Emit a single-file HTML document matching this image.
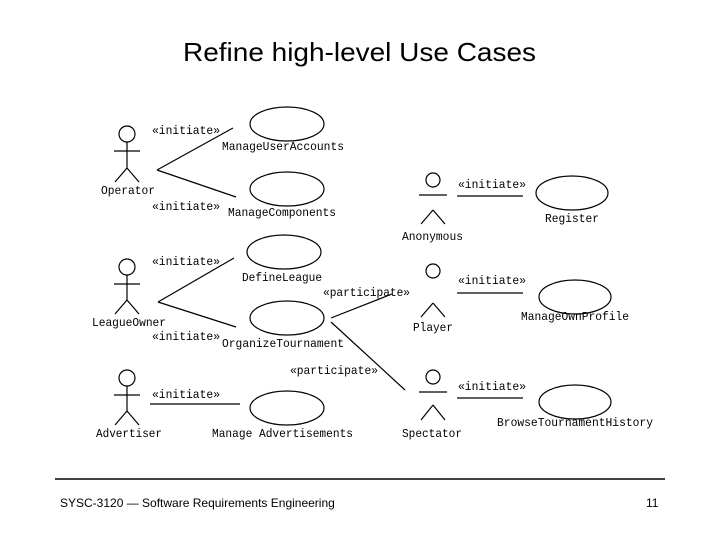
<!DOCTYPE html><html><head><style>body{margin:0;background:#fff}svg{display:block}</style></head><body>
<svg width="720" height="540" xmlns="http://www.w3.org/2000/svg" font-family="Liberation Mono, monospace">
<text x="183" y="61" font-family="Liberation Sans, sans-serif" font-size="26" textLength="353" lengthAdjust="spacingAndGlyphs">Refine high-level Use Cases</text>
<g stroke="#000" stroke-width="1.2" fill="none">
<circle cx="127" cy="134" r="8"/><path d="M127 142V168M114 151H140M127 168L115 182M127 168L139 182"/>
<circle cx="127" cy="267" r="8"/><path d="M127 275V300M114 284H140M127 300L115 314M127 300L139 314"/>
<circle cx="127" cy="378" r="8"/><path d="M127 386V411M114 395H140M127 411L115 425M127 411L139 425"/>
<ellipse cx="287" cy="124" rx="37" ry="17"/>
<ellipse cx="287" cy="189" rx="37" ry="17"/>
<ellipse cx="284" cy="252" rx="37" ry="17"/>
<ellipse cx="287" cy="318" rx="37" ry="17"/>
<ellipse cx="287" cy="408" rx="37" ry="17"/>
<ellipse cx="572" cy="193" rx="36" ry="17"/>
<ellipse cx="575" cy="297" rx="36" ry="17"/>
<ellipse cx="575" cy="402" rx="36" ry="17"/>
<path d="M157 170L233 128M157 170L236 197M158 302L234 258M158 302L236 327M150 404H240"/>
<path d="M331 318L392 294M331 322L405 390"/>
<path d="M457 196H523M457 293H523M457 398H523"/>
<circle cx="433" cy="180" r="7"/><path d="M419 195H447M433 210L421 224M433 210L445 224"/>
<circle cx="433" cy="271" r="7"/><path d="M433 303L421 317M433 303L445 317"/>
<circle cx="433" cy="377" r="7"/><path d="M419 392H447M433 405L421 420M433 405L445 420"/>
<path d="M55 479H665" stroke-width="1.5"/>
</g>
<g font-size="12" fill="#000" lengthAdjust="spacingAndGlyphs">
<text x="101" y="194" textLength="54" lengthAdjust="spacingAndGlyphs">Operator</text>
<text x="92" y="326" textLength="74" lengthAdjust="spacingAndGlyphs">LeagueOwner</text>
<text x="96" y="437" textLength="66" lengthAdjust="spacingAndGlyphs">Advertiser</text>
<text x="222" y="150" textLength="122" lengthAdjust="spacingAndGlyphs">ManageUserAccounts</text>
<text x="228" y="216" textLength="108" lengthAdjust="spacingAndGlyphs">ManageComponents</text>
<text x="242" y="281" textLength="80" lengthAdjust="spacingAndGlyphs">DefineLeague</text>
<text x="222" y="347" textLength="122" lengthAdjust="spacingAndGlyphs">OrganizeTournament</text>
<text x="212" y="437" textLength="141" lengthAdjust="spacingAndGlyphs">Manage Advertisements</text>
<text x="152" y="134" textLength="68" lengthAdjust="spacingAndGlyphs">«initiate»</text>
<text x="152" y="210" textLength="68" lengthAdjust="spacingAndGlyphs">«initiate»</text>
<text x="152" y="265" textLength="68" lengthAdjust="spacingAndGlyphs">«initiate»</text>
<text x="152" y="340" textLength="68" lengthAdjust="spacingAndGlyphs">«initiate»</text>
<text x="152" y="398" textLength="68" lengthAdjust="spacingAndGlyphs">«initiate»</text>
<text x="323" y="296" textLength="87" lengthAdjust="spacingAndGlyphs">«participate»</text>
<text x="290" y="374" textLength="88" lengthAdjust="spacingAndGlyphs">«participate»</text>
<text x="402" y="240" textLength="61" lengthAdjust="spacingAndGlyphs">Anonymous</text>
<text x="413" y="331" textLength="40" lengthAdjust="spacingAndGlyphs">Player</text>
<text x="402" y="437" textLength="60" lengthAdjust="spacingAndGlyphs">Spectator</text>
<text x="458" y="188" textLength="68" lengthAdjust="spacingAndGlyphs">«initiate»</text>
<text x="458" y="284" textLength="68" lengthAdjust="spacingAndGlyphs">«initiate»</text>
<text x="458" y="390" textLength="68" lengthAdjust="spacingAndGlyphs">«initiate»</text>
<text x="545" y="222" textLength="54" lengthAdjust="spacingAndGlyphs">Register</text>
<text x="521" y="320" textLength="108" lengthAdjust="spacingAndGlyphs">ManageOwnProfile</text>
<text x="497" y="426" textLength="156" lengthAdjust="spacingAndGlyphs">BrowseTournamentHistory</text>
</g>
<text x="60" y="507" font-family="Liberation Sans, sans-serif" font-size="12">SYSC-3120 — Software Requirements Engineering</text>
<text x="646" y="507" font-family="Liberation Sans, sans-serif" font-size="12">11</text>
</svg></body></html>
